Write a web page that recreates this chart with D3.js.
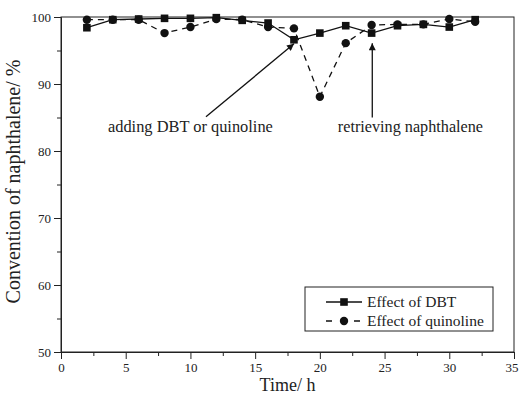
<!DOCTYPE html>
<html>
<head>
<meta charset="utf-8">
<script src="https://cdn.jsdelivr.net/npm/d3@7"></script>
<style>
  body { margin: 0; background: #fff; }
  text { font-family: "Liberation Serif", "DejaVu Serif", serif; fill: #222; }
</style>
</head>
<body>
<div id="chart"></div>
<script>
const AREA_WIDTH = 519;
const AREA_HEIGHT = 398;
const MARGIN = { TOP: 17, RIGHT: 5, BOTTOM: 46, LEFT: 61 };
const WIDTH = AREA_WIDTH - MARGIN.LEFT - MARGIN.RIGHT;
const HEIGHT = AREA_HEIGHT - MARGIN.TOP - MARGIN.BOTTOM;

// data
const timeDBT = [2, 4, 6, 8, 10, 12, 14, 16, 18, 20, 22, 24, 26, 28, 30, 32];
const convDBT = [98.4, 99.6, 99.7, 99.8, 99.8, 99.9, 99.5, 99.1, 96.6, 97.6, 98.7, 97.6, 98.7, 98.9, 98.5, 99.6];
const timeQuin = [2, 4, 6, 8, 10, 12, 14, 16, 18, 20, 22, 24, 26, 28, 30, 32];
const convQuin = [99.6, 99.6, 99.6, 97.6, 98.5, 99.7, 99.6, 98.5, 98.3, 88.1, 96.1, 98.8, 98.9, 98.9, 99.7, 99.3];
const xTicks = [0, 5, 10, 15, 20, 25, 30, 35];
const yTicks = [50, 60, 70, 80, 90, 100];
const legendLabels = ['Effect of DBT', 'Effect of quinoline'];

const svg = d3.select('#chart')
              .append('svg')
              .attr('width', AREA_WIDTH)
              .attr('height', AREA_HEIGHT)
              .append('g')
              .attr('transform', `translate(${MARGIN.LEFT},${MARGIN.TOP})`);

const x = d3.scaleLinear().domain([0, 35]).range([0, WIDTH]);
const y = d3.scaleLinear().domain([50, 100]).range([HEIGHT, 0]);

// minor ticks
svg.append('g')
   .attr('transform', `translate(0, ${HEIGHT})`)
   .call(d3.axisBottom(x).tickValues(d3.range(2.5, 35, 5)).tickSize(4).tickFormat(''))
   .call(g => g.select('.domain').remove());
svg.append('g')
   .call(d3.axisLeft(y).tickValues(d3.range(55, 100, 10)).tickSize(4).tickFormat(''))
   .call(g => g.select('.domain').remove());

const xAxis = svg.append('g')
   .attr('transform', `translate(0, ${HEIGHT})`)
   .call(d3.axisBottom(x).tickValues(xTicks).tickSize(7).tickPadding(4));
xAxis.selectAll('text').style('font-size', '13px');
// last label sits at the window edge, keep it inside
xAxis.selectAll('text').filter(d => d === 35)
   .style('text-anchor', 'end')
   .attr('dx', 4);

const yAxis = svg.append('g')
   .call(d3.axisLeft(y).tickValues(yTicks).tickSize(7).tickPadding(3));
yAxis.selectAll('text').style('font-size', '13px');

svg.selectAll('.domain').attr('stroke', '#222');
svg.selectAll('.tick line').attr('stroke', '#222');

// frame
svg.append('rect')
   .attr('width', WIDTH)
   .attr('height', HEIGHT)
   .attr('fill', 'none')
   .attr('stroke', '#222');

svg.append('text')
   .attr('x', WIDTH / 2)
   .attr('y', HEIGHT + 39)
   .style('text-anchor', 'middle')
   .style('font-size', '18px')
   .text('Time/ h');

svg.append('text')
   .attr('transform', 'rotate(-90)')
   .attr('x', -HEIGHT / 2 + 3)
   .attr('y', -41)
   .style('text-anchor', 'middle')
   .style('font-size', '20px')
   .text('Convention of naphthalene/ %');

const line = d3.line().x(d => x(d[0])).y(d => y(d[1]));
const dbt = d3.zip(timeDBT, convDBT);
const quin = d3.zip(timeQuin, convQuin);

svg.append('path')
   .datum(quin)
   .attr('d', line)
   .attr('fill', 'none')
   .attr('stroke', '#111')
   .attr('stroke-width', 1.3)
   .attr('stroke-dasharray', '6,5');

svg.append('path')
   .datum(dbt)
   .attr('d', line)
   .attr('fill', 'none')
   .attr('stroke', '#111')
   .attr('stroke-width', 1.3);

svg.selectAll('circle.q')
   .data(quin)
   .enter()
   .append('circle')
   .attr('class', 'q')
   .attr('cx', d => x(d[0]))
   .attr('cy', d => y(d[1]))
   .attr('r', 4.2)
   .attr('fill', '#111');

svg.selectAll('rect.d')
   .data(dbt)
   .enter()
   .append('rect')
   .attr('class', 'd')
   .attr('x', d => x(d[0]) - 3.8)
   .attr('y', d => y(d[1]) - 3.8)
   .attr('width', 7.6)
   .attr('height', 7.6)
   .attr('fill', '#111');

// annotations
const defs = svg.append('defs');
defs.append('marker')
    .attr('id', 'arrow')
    .attr('viewBox', '0 0 10 10')
    .attr('refX', 10)
    .attr('refY', 5)
    .attr('markerWidth', 9)
    .attr('markerHeight', 7)
    .attr('orient', 'auto')
    .attr('markerUnits', 'userSpaceOnUse')
    .append('path')
    .attr('d', 'M0,0 L10,5 L0,10 z')
    .attr('fill', '#111');

svg.append('line')
   .attr('x1', x(11.2)).attr('y1', y(85.1))
   .attr('x2', x(18.0)).attr('y2', y(96.0))
   .attr('stroke', '#111')
   .attr('stroke-width', 1.3)
   .attr('marker-end', 'url(#arrow)');
svg.append('text')
   .attr('x', x(10))
   .attr('y', y(82.8))
   .style('text-anchor', 'middle')
   .style('font-size', '16.4px')
   .text('adding DBT or quinoline');

svg.append('line')
   .attr('x1', x(24.05)).attr('y1', y(85.0))
   .attr('x2', x(24.05)).attr('y2', y(96.1))
   .attr('stroke', '#111')
   .attr('stroke-width', 1.3)
   .attr('marker-end', 'url(#arrow)');
svg.append('text')
   .attr('x', x(27.0))
   .attr('y', y(82.8))
   .style('text-anchor', 'middle')
   .style('font-size', '16.2px')
   .text('retrieving naphthalene');

// legend
const legend = svg.append('g')
   .attr('transform', `translate(${305 - MARGIN.LEFT}, ${287 - MARGIN.TOP})`);
legend.append('rect')
   .attr('width', 188)
   .attr('height', 44)
   .attr('fill', '#fff')
   .attr('stroke', '#222');

legendLabels.forEach((label, i) => {
  const ly = 15 + i * 19;
  legend.append('line')
     .attr('x1', 21).attr('x2', 57)
     .attr('y1', ly).attr('y2', ly)
     .attr('stroke', '#111')
     .attr('stroke-width', 1.3)
     .attr('stroke-dasharray', i === 0 ? null : '6,8');
  if (i === 0) {
    legend.append('rect')
       .attr('x', 39 - 3.8).attr('y', ly - 3.8)
       .attr('width', 7.6).attr('height', 7.6)
       .attr('fill', '#111');
  } else {
    legend.append('circle')
       .attr('cx', 39).attr('cy', ly)
       .attr('r', 4.2)
       .attr('fill', '#111');
  }
  legend.append('text')
     .attr('x', 62)
     .attr('y', ly + 5)
     .style('font-size', '15.5px')
     .text(label);
});
</script>
</body>
</html>
